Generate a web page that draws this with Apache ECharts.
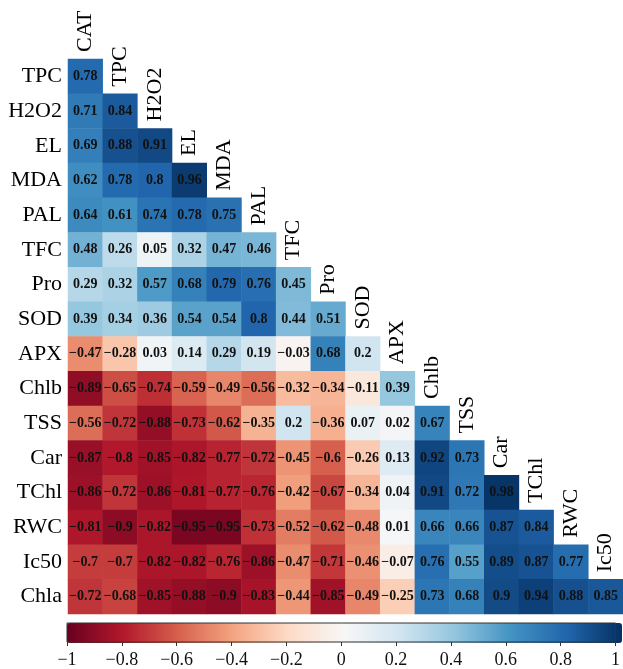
<!DOCTYPE html>
<html><head><meta charset="utf-8">
<script src="https://cdn.jsdelivr.net/npm/echarts@6/dist/echarts.min.js"></script>
<style>html,body{margin:0;padding:0;background:#fff}#c{width:623px;height:669px}</style>
</head><body><div id="c"></div>
<script>
const colLabels = ['CAT','TPC','H2O2','EL','MDA','PAL','TFC','Pro','SOD','APX','Chlb','TSS','Car','TChl','RWC','Ic50'];
const rowLabels = ['TPC','H2O2','EL','MDA','PAL','TFC','Pro','SOD','APX','Chlb','TSS','Car','TChl','RWC','Ic50','Chla'];

const rowTPC  = [0.78];
const rowH2O2 = [0.71, 0.84];
const rowEL   = [0.69, 0.88, 0.91];
const rowMDA  = [0.62, 0.78, 0.8, 0.96];
const rowPAL  = [0.64, 0.61, 0.74, 0.78, 0.75];
const rowTFC  = [0.48, 0.26, 0.05, 0.32, 0.47, 0.46];
const rowPro  = [0.29, 0.32, 0.57, 0.68, 0.79, 0.76, 0.45];
const rowSOD  = [0.39, 0.34, 0.36, 0.54, 0.54, 0.8, 0.44, 0.51];
const rowAPX  = [-0.47, -0.28, 0.03, 0.14, 0.29, 0.19, -0.03, 0.68, 0.2];
const rowChlb = [-0.89, -0.65, -0.74, -0.59, -0.49, -0.56, -0.32, -0.34, -0.11, 0.39];
const rowTSS  = [-0.56, -0.72, -0.88, -0.73, -0.62, -0.35, 0.2, -0.36, 0.07, 0.02, 0.67];
const rowCar  = [-0.87, -0.8, -0.85, -0.82, -0.77, -0.72, -0.45, -0.6, -0.26, 0.13, 0.92, 0.73];
const rowTChl = [-0.86, -0.72, -0.86, -0.81, -0.77, -0.76, -0.42, -0.67, -0.34, 0.04, 0.91, 0.72, 0.98];
const rowRWC  = [-0.81, -0.9, -0.82, -0.95, -0.95, -0.73, -0.52, -0.62, -0.48, 0.01, 0.66, 0.66, 0.87, 0.84];
const rowIc50 = [-0.7, -0.7, -0.82, -0.82, -0.76, -0.86, -0.47, -0.71, -0.46, -0.07, 0.76, 0.55, 0.89, 0.87, 0.77];
const rowChla = [-0.72, -0.68, -0.85, -0.88, -0.9, -0.83, -0.44, -0.85, -0.49, -0.25, 0.73, 0.68, 0.9, 0.94, 0.88, 0.85];

const matrix = [rowTPC,rowH2O2,rowEL,rowMDA,rowPAL,rowTFC,rowPro,rowSOD,rowAPX,rowChlb,rowTSS,rowCar,rowTChl,rowRWC,rowIc50,rowChla];

const colorbarMin = -1, colorbarMax = 1, colorbarStep = 0.2;
const rdbu = ['#67001f','#b2182b','#d6604d','#f4a582','#fddbc7','#f7f7f7','#d1e5f0','#92c5de','#4393c3','#2166ac','#053061'];

const heatData = [];
matrix.forEach((row, i) => row.forEach((v, j) => heatData.push([j, i, v])));
const diagData = colLabels.map((c, j) => [j, j]);

const fmt = v => String(v).replace('-', '\u2212');
const SERIF = '"Liberation Serif", "Times New Roman", serif';

const chart = echarts.init(document.getElementById('c'), null, {renderer:'canvas'});
chart.setOption({
  animation: false,
  backgroundColor: '#fff',
  grid: [
    {left: 68, top: 59, width: 555, height: 555},
    {left: 67, top: 623, width: 555, height: 20, show: true, borderColor: '#333', borderWidth: 1, backgroundColor: 'transparent', z: 10}
  ],
  xAxis: [
    {type: 'category', data: colLabels, gridIndex: 0, show: false},
    {type: 'value', gridIndex: 1, min: colorbarMin, max: colorbarMax, interval: colorbarStep, position: 'bottom',
     axisLine: {show: false}, splitLine: {show: false}, z: 10,
     axisTick: {show: true, length: 4, lineStyle: {color: '#333'}},
     axisLabel: {margin: 9, color: '#111', fontFamily: SERIF, fontSize: 18,
       formatter: v => fmt(Math.round(v * 10) / 10)}}
  ],
  yAxis: [
    {type: 'category', data: rowLabels, gridIndex: 0, inverse: true,
     axisLine: {show: false}, axisTick: {show: false}, splitLine: {show: false},
     axisLabel: {margin: 6, color: '#000', fontFamily: SERIF, fontSize: 22}},
    {type: 'value', gridIndex: 1, show: false, min: 0, max: 1}
  ],
  visualMap: {
    type: 'continuous', min: colorbarMin, max: colorbarMax, orient: 'horizontal',
    left: 67, top: 623, itemWidth: 20, itemHeight: 555, padding: 0,
    calculable: false, showLabel: false, text: null, hoverLink: false, seriesIndex: 0,
    inRange: {color: rdbu}
  },
  series: [
    {type: 'heatmap', xAxisIndex: 0, yAxisIndex: 0, data: heatData,
     itemStyle: {borderWidth: 0},
     label: {show: true, formatter: p => fmt(p.value[2]), fontFamily: SERIF, fontWeight: 'bold', fontSize: 14, color: '#111'},
     emphasis: {disabled: true}},
    {type: 'custom', xAxisIndex: 0, yAxisIndex: 0, data: diagData, silent: true,
     renderItem: (params, api) => {
       const j = api.value(0);
       const c = api.coord([j, api.value(1)]);
       const s = api.size([1, 1]);
       return {type: 'text', x: c[0], y: c[1] - s[1] / 2 - 7, rotation: Math.PI / 2,
         style: {text: colLabels[j], x: 0, y: 0, textAlign: 'left', textVerticalAlign: 'middle', align: 'left', verticalAlign: 'middle',
           fill: '#000', fontFamily: SERIF, fontSize: 22}};
     }}
  ]
});
</script></body></html>
